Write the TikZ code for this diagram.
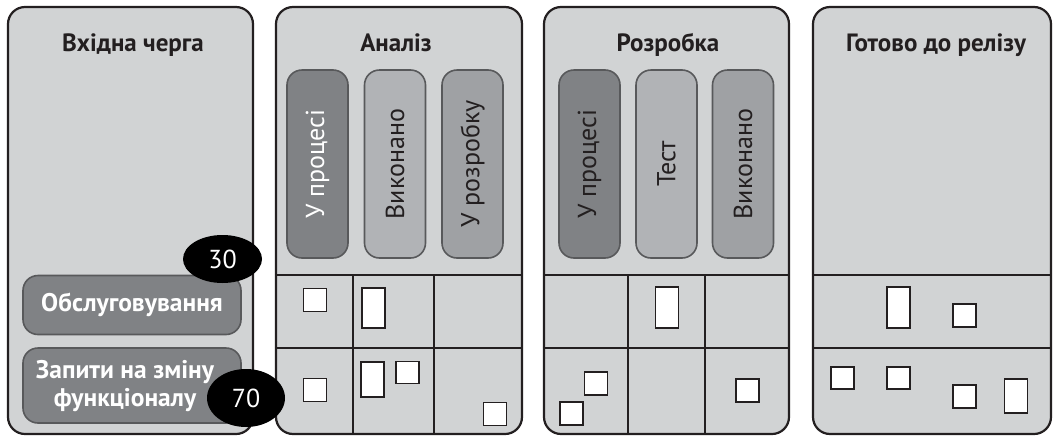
\documentclass[tikz,border=0pt]{standalone}
\usepackage{fontspec}
\setmainfont{PT Sans}
\usetikzlibrary{shapes.geometric}
\definecolor{panelgray}{HTML}{D1D3D4}
\definecolor{darkpill}{HTML}{808285}
\definecolor{lightpill}{HTML}{B1B3B6}
\definecolor{midpill}{HTML}{9FA1A4}
\definecolor{pillline}{HTML}{58595B}
\definecolor{ink}{HTML}{231F20}
\begin{document}
\begin{tikzpicture}[x=1pt,y=-1pt,
  panel/.style={draw=ink, line width=2.2pt, fill=panelgray, rounded corners=17pt, inner sep=0pt},
  title/.style={font=\fontsize{25}{29}\selectfont\bfseries, text=ink, anchor=base, inner sep=0pt},
  pill/.style={draw=pillline, line width=1.6pt, rounded corners=15pt, rotate=90, minimum width=188pt, minimum height=61pt, inner sep=0pt, font=\fontsize{26}{30}\selectfont, text=ink},
  gridline/.style={draw=ink, line width=1.5pt},
  card/.style={draw=ink, fill=white, line width=1.5pt, inner sep=0pt, minimum width=23pt},
  sq/.style={card, minimum height=23pt},
  tall/.style={card, minimum height=40pt},
  qbox/.style={draw=pillline, line width=1.6pt, fill=darkpill, rounded corners=15pt, inner sep=0pt, minimum width=218pt},
  qtext/.style={inner sep=0pt, text=white, font=\fontsize{25.5}{28}\selectfont\bfseries, align=center},
  count/.style={ellipse, fill=black, inner sep=0pt, text=white, font=\fontsize{26}{30}\selectfont}
]
\useasboundingbox (0,0) rectangle (1053,437);

% panels
\node[panel, minimum width=245pt, minimum height=427pt] (p1) at (130.5,220.5) {};
\node[panel, minimum width=246pt, minimum height=427pt] (p2) at (399,220.5) {};
\node[panel, minimum width=245pt, minimum height=427pt] (p3) at (666.5,220.5) {};
\node[panel, minimum width=238pt, minimum height=427pt] (p4) at (932,220.5) {};

% titles
\node[title] (t1) at (133,51) {Вхідна черга};
\node[title] (t2) at (396,51) {Аналіз};
\node[title] (t3) at (668,51) {Розробка};
\node[title] (t4) at (936,51) {Готово до релізу};

% pills
\node[pill, fill=darkpill, text=white] (a1) at (317.5,164) {У процесі};
\node[pill, fill=lightpill] (a2) at (395,164) {Виконано};
\node[pill, fill=midpill] (a3) at (472.5,164) {У розробку};
\node[pill, fill=darkpill] (d1) at (589.5,164) {У процесі};
\node[pill, fill=lightpill] (d2) at (666.5,164) {Тест};
\node[pill, fill=midpill] (d3) at (743,164) {Виконано};

% grid
\coordinate (h1) at (0,275);
\coordinate (h2) at (0,348);
\coordinate (v1) at (353,0);
\coordinate (v2) at (434,0);
\coordinate (v3) at (628,0);
\coordinate (v4) at (705,0);
\foreach \p in {p2,p3,p4}{
  \draw[gridline] (\p.west |- h1) -- (\p.east |- h1);
  \draw[gridline] (\p.west |- h2) -- (\p.east |- h2);
}
\draw[gridline] (v1 |- h1) -- (v1 |- p2.south);
\draw[gridline] (v2 |- h1) -- (v2 |- p2.south);
\draw[gridline] (v3 |- h1) -- (v3 |- p3.south);
\draw[gridline] (v4 |- h1) -- (v4 |- p3.south);

% cards, panel 2
\node[sq] (c1) at (315,300) {};
\node[tall] (c2) at (373.5,308) {};
\node[sq] (c3) at (315,390) {};
\node[tall, minimum height=35pt] (c4) at (372.5,379.5) {};
\node[sq, minimum height=22pt] (c5) at (407.5,372.5) {};
\node[sq] (c6) at (495,414) {};
% cards, panel 3
\node[tall, minimum height=41pt] (c7) at (667,307.5) {};
\node[sq] (c8) at (596,383.5) {};
\node[sq] (c9) at (571.5,413.5) {};
\node[sq] (c10) at (747.5,390.5) {};
% cards, panel 4
\node[tall, minimum height=41pt] (c11) at (898.5,307.5) {};
\node[sq] (c12) at (964.5,315.5) {};
\node[sq, minimum height=22pt] (c13) at (842.5,378) {};
\node[sq, minimum height=22pt] (c14) at (898.5,378) {};
\node[sq] (c15) at (964.5,396.5) {};
\node[tall, minimum height=34pt] (c16) at (1016,396) {};

% queue boxes
\node[qbox, minimum height=59pt] (q1) at (132,305) {};
\node[qtext] (q1t) at (q1) {Обслуговування};
\node[qbox, minimum height=75pt] (q2) at (132,385.5) {};
\node[qtext] (q2t) at (125,386) {Запити на зміну\\функціоналу};

% counts
\node[count, minimum width=79pt, minimum height=48pt] (n30) at (222.5,259) {30};
\node[count, minimum width=78pt, minimum height=58pt] (n70) at (246,398) {70};
\end{tikzpicture}
\end{document}
